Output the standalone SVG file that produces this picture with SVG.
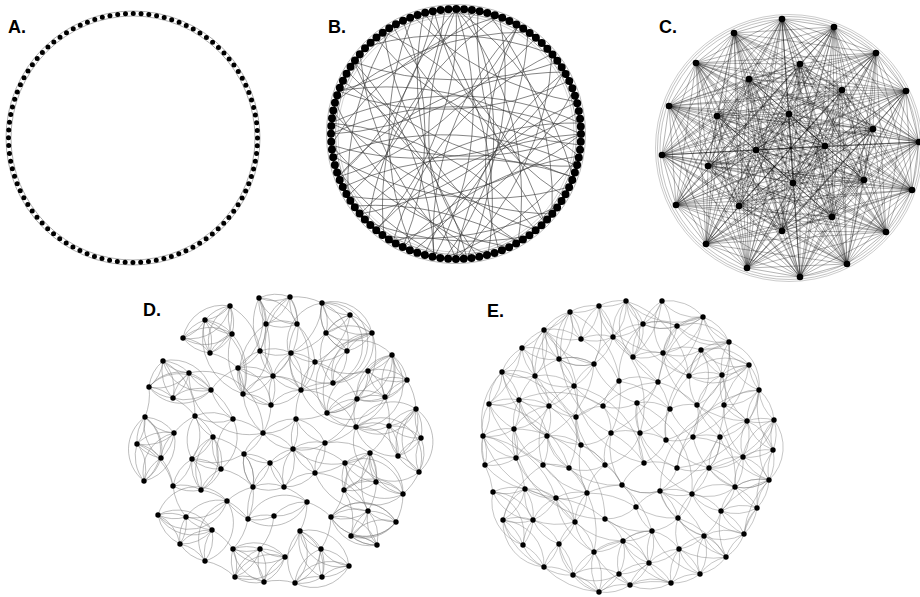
<svg xmlns="http://www.w3.org/2000/svg" width="920" height="597" viewBox="0 0 920 597">
<style>
.lbl{font-family:"Liberation Sans",Arial,sans-serif;font-weight:bold;font-size:18px;fill:#000}
.ring{fill:none;stroke:#000;stroke-linecap:round}
.ra{fill:none;stroke:#9a9a9a;stroke-width:.8}
.eb{fill:none;stroke:#333;stroke-width:.6}
.ec{fill:none;stroke:#000;stroke-opacity:.5;stroke-width:.6}
.ed{fill:none;stroke:#7a7a7a;stroke-width:.5}
.ee{fill:none;stroke:#808080;stroke-width:.45}
</style>
<rect width="920" height="597" fill="#fff"/>
<g id="labels">
<text class="lbl" x="8" y="33">A.</text>
<text class="lbl" x="328" y="33">B.</text>
<text class="lbl" x="659" y="33">C.</text>
<text class="lbl" x="143" y="316">D.</text>
<text class="lbl" x="487" y="317">E.</text>
</g>
<g id="connectors">
<g id="edges-A">
<circle class="ra" cx="133" cy="138" r="122"/>
<circle class="ra" cx="133" cy="138" r="127"/>
</g>
<g id="edges-B">
<circle class="ra" cx="456" cy="134" r="120.5" style="stroke:#666;stroke-width:.6"/>
<circle class="ra" cx="456" cy="134" r="118" style="stroke:#aaa;stroke-width:.5"/>
<circle class="ra" cx="456" cy="134" r="129.5" style="stroke:#888;stroke-width:.6"/>
<path class="eb" d="M456 9A300 300 0 0 1 434 257M456 9A300 300 0 0 1 518 242M456 9A300 300 0 0 1 376 230M456 9A300 300 0 0 1 573 177M467 10A300 300 0 0 1 467 258M445 10A300 300 0 0 1 348 196M478 11A300 300 0 0 1 338 91M499 16A300 300 0 0 1 445 258M488 13A300 300 0 0 1 552 214M518 26A300 300 0 0 1 338 177M528 32A300 300 0 0 1 413 251M536 38A300 300 0 0 1 331 134M552 54A300 300 0 0 1 456 259M558 62A300 300 0 0 1 354 62M564 72A300 300 0 0 1 360 214M569 81A300 300 0 0 1 338 91M573 91A300 300 0 0 1 393 242M577 102A300 300 0 0 1 413 16M579 112A300 300 0 0 1 331 145M581 134A300 300 0 0 1 331 123M581 134A300 300 0 0 1 348 196M580 145A300 300 0 0 1 376 38M579 156A300 300 0 0 1 445 258M577 166A300 300 0 0 1 348 72M573 177A300 300 0 0 1 393 26M569 187A300 300 0 0 1 333 156M564 196A300 300 0 0 1 434 11M558 206A300 300 0 0 1 384 236M552 214A300 300 0 0 1 333 112M544 222A300 300 0 0 1 478 11M536 230A300 300 0 0 1 354 62M528 236A300 300 0 0 1 368 222M518 242A300 300 0 0 1 384 32M509 247A300 300 0 0 1 331 145M499 251A300 300 0 0 1 518 26M488 255A300 300 0 0 1 335 102M478 257A300 300 0 0 1 424 13M467 258A300 300 0 0 1 360 54M456 259A300 300 0 0 1 456 9M456 259A300 300 0 0 1 564 72M445 258A300 300 0 0 1 335 166M434 257A300 300 0 0 1 518 26M424 255A300 300 0 0 1 577 102M413 251A300 300 0 0 1 413 16M403 247A300 300 0 0 1 579 156M393 242A300 300 0 0 1 552 54M384 236A300 300 0 0 1 456 9M376 230A300 300 0 0 1 581 134M368 222A300 300 0 0 1 499 16M360 214A300 300 0 0 1 580 123M354 206A300 300 0 0 1 518 242M348 196A300 300 0 0 1 393 26M343 187A300 300 0 0 1 573 177M338 177A300 300 0 0 1 564 72M333 156A300 300 0 0 1 577 166M331 145A300 300 0 0 1 499 16M331 134A300 300 0 0 1 581 134M331 123A300 300 0 0 1 536 230M335 102A300 300 0 0 1 528 32M343 81A300 300 0 0 1 467 258M354 62A300 300 0 0 1 434 257M368 46A300 300 0 0 1 552 54M384 32A300 300 0 0 1 544 222M403 21A300 300 0 0 1 403 247M424 13A300 300 0 0 1 488 255M434 11A300 300 0 0 1 338 177M331 123A300 300 0 0 1 580 123M338 91A300 300 0 0 1 579 156"/>
</g>
<g id="edges-C">
<circle class="ra" cx="789" cy="148" r="129" style="stroke:#999;stroke-width:.6"/>
<circle class="ra" cx="789" cy="148" r="131.5" style="stroke:#999;stroke-width:.6"/>
<circle class="ra" cx="789" cy="148" r="133.5" style="stroke:#aaa;stroke-width:.6"/>
<path class="ec" d="M782 19L834 27 734 33 876 53 696 63 800 64 749 79 842 90 906 91 669 106 717 116 789 114 873 129 919 142 662 155 825 146 756 150 708 166 864 180 793 183 912 190 676 205 739 206 832 217 782 231 886 232 706 244 847 264 747 268 800 277Z
M782 19L842 90 662 155 676 205 747 268 800 64 873 129 793 183 706 244 876 53 717 116 708 166 782 231 834 27 906 91 825 146 739 206 800 277 749 79 919 142 912 190 847 264 696 63 789 114 864 180 886 232 734 33 669 106 756 150 832 217Z
M782 19L789 114 739 206 876 53 662 155 886 232 749 79 708 166 747 268 669 106 912 190 834 27 873 129 832 217 696 63 825 146 706 244 842 90 864 180 800 277 717 116 676 205 734 33 919 142 782 231 800 64 756 150 847 264 906 91 793 183Z
M782 19L919 142 706 244 669 106 739 206 800 64 864 180 834 27 662 155 847 264 717 116 832 217 749 79 793 183 734 33 825 146 747 268 789 114 782 231 842 90 912 190 876 53 756 150 800 277 873 129 886 232 906 91 676 205 696 63 708 166Z
M782 19L734 33 696 63 749 79 906 91 717 116 873 129 662 155 756 150 864 180 912 190 739 206 782 231 706 244 747 268Z
M834 27L876 53 800 64 842 90 669 106 789 114 919 142 825 146 708 166 793 183 676 205 832 217 886 232 847 264 800 277Z
M782 19L696 63 906 91 873 129 756 150 912 190 782 231 747 268 734 33 749 79 717 116 662 155 864 180 739 206 706 244Z
M834 27L800 64 669 106 919 142 708 166 676 205 886 232 800 277 876 53 842 90 789 114 825 146 793 183 832 217 847 264Z
M782 19L906 91 756 150 782 231 734 33 717 116 864 180 706 244 696 63 873 129 912 190 747 268 749 79 662 155 739 206Z
M834 27L669 106 708 166 886 232 876 53 789 114 793 183 847 264 800 64 919 142 676 205 800 277 842 90 825 146 832 217Z
M782 19L662 155 747 268 873 129 706 244 717 116 782 231 906 91 739 206 749 79 912 190 696 63 864 180 734 33 756 150Z
M834 27L825 146 800 277 919 142 847 264 789 114 886 232 669 106 832 217 842 90 676 205 800 64 793 183 876 53 708 166Z
M782 19L876 53 749 79 669 106 873 129 825 146 864 180 676 205 782 231 847 264Z
M834 27L696 63 842 90 717 116 919 142 756 150 793 183 739 206 886 232 747 268Z
M734 33L800 64 906 91 789 114 662 155 708 166 912 190 832 217 706 244 800 277Z
M782 19L669 106 864 180 847 264 749 79 825 146 782 231 876 53 873 129 676 205Z
M834 27L717 116 793 183 747 268 842 90 756 150 886 232 696 63 919 142 739 206Z
M734 33L789 114 912 190 800 277 906 91 708 166 706 244 800 64 662 155 832 217Z
M782 19L800 64 717 116 825 146 912 190 886 232Z
M834 27L749 79 789 114 756 150 676 205 706 244Z
M734 33L842 90 873 129 708 166 739 206 847 264Z
M876 53L906 91 919 142 864 180 832 217 747 268Z
M696 63L669 106 662 155 793 183 782 231 800 277Z
M782 19L749 79 873 129 864 180 782 231Z
M834 27L842 90 919 142 793 183 886 232Z
M734 33L906 91 662 155 912 190 706 244Z
M876 53L669 106 825 146 676 205 847 264Z
M696 63L717 116 756 150 739 206 747 268Z
M800 64L789 114 708 166 832 217 800 277Z
M782 19L873 129 782 231 749 79 864 180Z
M834 27L919 142 886 232 842 90 793 183Z
M734 33L662 155 706 244 906 91 912 190Z
M876 53L825 146 847 264 669 106 676 205Z
M696 63L756 150 747 268 717 116 739 206Z
M800 64L708 166 800 277 789 114 832 217Z
M782 19L717 116 912 190ZM834 27L789 114 676 205ZM734 33L873 129 739 206ZM876 53L919 142 832 217ZM696 63L662 155 782 231ZM800 64L825 146 886 232ZM749 79L756 150 706 244ZM842 90L708 166 847 264ZM906 91L864 180 747 268ZM669 106L793 183 800 277Z
M782 19L825 146M834 27L756 150M734 33L708 166M876 53L864 180M696 63L793 183M800 64L912 190M749 79L676 205M842 90L739 206M906 91L832 217M669 106L782 231M717 116L886 232M789 114L706 244M873 129L847 264M919 142L747 268M662 155L800 277"/>
</g>
<g id="edges-D">
<path class="ed" d="M205 320A40 40 0 0 1 230 306 40 40 0 0 1 232 334 40 40 0 0 1 183 338 40 40 0 0 1 210 353 40 40 0 0 1 205 320 40 40 0 0 1 232 334 40 40 0 0 1 210 353 40 40 0 0 1 230 306 40 40 0 0 1 183 338 40 40 0 0 1 205 320
M259 298A40 40 0 0 1 290 297 40 40 0 0 1 297 324 40 40 0 0 1 266 324 40 40 0 0 1 259 298 40 40 0 0 1 297 324M290 297A40 40 0 0 1 266 324
M322 303A40 40 0 0 1 350 315 40 40 0 0 1 326 333 40 40 0 0 1 372 333 40 40 0 0 1 347 351 40 40 0 0 1 333 383 40 40 0 0 1 322 303 40 40 0 0 1 326 333 40 40 0 0 1 347 351 40 40 0 0 1 322 303 40 40 0 0 1 372 333 40 40 0 0 1 333 383 40 40 0 0 1 350 315 40 40 0 0 1 372 333
M260 351A40 40 0 0 1 291 353 40 40 0 0 1 315 362 40 40 0 0 1 301 390 40 40 0 0 1 271 405 40 40 0 0 1 243 394 40 40 0 0 1 238 368 40 40 0 0 1 260 351 40 40 0 0 1 273 376 40 40 0 0 1 291 353 40 40 0 0 1 301 390 40 40 0 0 1 273 376 40 40 0 0 1 271 405 40 40 0 0 1 238 368 40 40 0 0 1 273 376 40 40 0 0 1 243 394
M163 361A40 40 0 0 1 189 373 40 40 0 0 1 149 387 40 40 0 0 1 211 390 40 40 0 0 1 173 398 40 40 0 0 1 163 361 40 40 0 0 1 149 387 40 40 0 0 1 173 398 40 40 0 0 1 189 373 40 40 0 0 1 211 390 40 40 0 0 1 163 361
M392 355A40 40 0 0 1 368 371 40 40 0 0 1 407 380 40 40 0 0 1 385 397 40 40 0 0 1 357 399 40 40 0 0 1 327 413 40 40 0 0 1 392 355 40 40 0 0 1 407 380 40 40 0 0 1 357 399 40 40 0 0 1 392 355 40 40 0 0 1 385 397 40 40 0 0 1 327 413 40 40 0 0 1 368 371 40 40 0 0 1 385 397
M145 417A40 40 0 0 1 137 444 40 40 0 0 1 161 458 40 40 0 0 1 144 481 40 40 0 0 1 174 433 40 40 0 0 1 145 417 40 40 0 0 1 161 458 40 40 0 0 1 174 433 40 40 0 0 1 137 444 40 40 0 0 1 144 481 40 40 0 0 1 145 417
M195 416A40 40 0 0 1 213 437 40 40 0 0 1 192 459 40 40 0 0 1 173 486 40 40 0 0 1 201 490 40 40 0 0 1 221 469 40 40 0 0 1 233 419 40 40 0 0 1 195 416 40 40 0 0 1 192 459 40 40 0 0 1 201 490 40 40 0 0 1 213 437 40 40 0 0 1 221 469 40 40 0 0 1 192 459
M416 409A40 40 0 0 1 389 426 40 40 0 0 1 421 438 40 40 0 0 1 398 456 40 40 0 0 1 419 472 40 40 0 0 1 356 427 40 40 0 0 1 416 409 40 40 0 0 1 421 438 40 40 0 0 1 419 472 40 40 0 0 1 416 409 40 40 0 0 1 398 456 40 40 0 0 1 356 427 40 40 0 0 1 389 426 40 40 0 0 1 398 456
M296 419A40 40 0 0 1 263 433 40 40 0 0 1 244 454 40 40 0 0 1 253 487 40 40 0 0 1 284 487 40 40 0 0 1 315 473 40 40 0 0 1 325 443 40 40 0 0 1 296 419 40 40 0 0 1 293 449 40 40 0 0 1 270 463 40 40 0 0 1 253 487 40 40 0 0 1 244 454 40 40 0 0 1 270 463 40 40 0 0 1 284 487 40 40 0 0 1 293 449 40 40 0 0 1 315 473M263 433A40 40 0 0 1 293 449 40 40 0 0 1 325 443
M370 453A40 40 0 0 1 345 463 40 40 0 0 1 376 482 40 40 0 0 1 344 490 40 40 0 0 1 403 494 40 40 0 0 1 370 453 40 40 0 0 1 376 482 40 40 0 0 1 403 494 40 40 0 0 1 345 463 40 40 0 0 1 344 490 40 40 0 0 1 370 453
M227 501A40 40 0 0 1 158 515 40 40 0 0 1 186 517 40 40 0 0 1 212 530 40 40 0 0 1 180 544 40 40 0 0 1 205 561 40 40 0 0 1 227 501 40 40 0 0 1 186 517 40 40 0 0 1 180 544 40 40 0 0 1 158 515 40 40 0 0 1 212 530 40 40 0 0 1 205 561
M248 519A40 40 0 0 1 274 516 40 40 0 0 1 307 502 40 40 0 0 1 248 519
M233 549A40 40 0 0 1 260 549 40 40 0 0 1 285 557 40 40 0 0 1 235 577 40 40 0 0 1 264 582 40 40 0 0 1 233 549 40 40 0 0 1 285 557 40 40 0 0 1 264 582 40 40 0 0 1 260 549 40 40 0 0 1 235 577 40 40 0 0 1 233 549
M300 531A40 40 0 0 1 321 549 40 40 0 0 1 349 566 40 40 0 0 1 322 577 40 40 0 0 1 295 583 40 40 0 0 1 300 531 40 40 0 0 1 349 566 40 40 0 0 1 295 583 40 40 0 0 1 321 549 40 40 0 0 1 322 577 40 40 0 0 1 300 531
M368 511A40 40 0 0 1 331 517 40 40 0 0 1 396 522 40 40 0 0 1 351 536 40 40 0 0 1 377 545 40 40 0 0 1 368 511 40 40 0 0 1 351 536 40 40 0 0 1 377 545 40 40 0 0 1 331 517 40 40 0 0 1 396 522 40 40 0 0 1 368 511"/>
<path class="ed" d="M205 320A40 40 0 0 0 230 306 40 40 0 0 0 232 334 40 40 0 0 0 183 338 40 40 0 0 0 210 353 40 40 0 0 0 205 320 40 40 0 0 0 232 334 40 40 0 0 0 210 353 40 40 0 0 0 230 306 40 40 0 0 0 183 338 40 40 0 0 0 205 320
M259 298A40 40 0 0 0 290 297 40 40 0 0 0 297 324 40 40 0 0 0 266 324 40 40 0 0 0 259 298 40 40 0 0 0 297 324M290 297A40 40 0 0 0 266 324
M322 303A40 40 0 0 0 350 315 40 40 0 0 0 326 333 40 40 0 0 0 372 333 40 40 0 0 0 347 351 40 40 0 0 0 333 383 40 40 0 0 0 322 303 40 40 0 0 0 326 333 40 40 0 0 0 347 351 40 40 0 0 0 322 303 40 40 0 0 0 372 333 40 40 0 0 0 333 383 40 40 0 0 0 350 315 40 40 0 0 0 372 333
M260 351A40 40 0 0 0 291 353 40 40 0 0 0 315 362 40 40 0 0 0 301 390 40 40 0 0 0 271 405 40 40 0 0 0 243 394 40 40 0 0 0 238 368 40 40 0 0 0 260 351 40 40 0 0 0 273 376 40 40 0 0 0 291 353 40 40 0 0 0 301 390 40 40 0 0 0 273 376 40 40 0 0 0 271 405 40 40 0 0 0 238 368 40 40 0 0 0 273 376 40 40 0 0 0 243 394
M163 361A40 40 0 0 0 189 373 40 40 0 0 0 149 387 40 40 0 0 0 211 390 40 40 0 0 0 173 398 40 40 0 0 0 163 361 40 40 0 0 0 149 387 40 40 0 0 0 173 398 40 40 0 0 0 189 373 40 40 0 0 0 211 390 40 40 0 0 0 163 361
M392 355A40 40 0 0 0 368 371 40 40 0 0 0 407 380 40 40 0 0 0 385 397 40 40 0 0 0 357 399 40 40 0 0 0 327 413 40 40 0 0 0 392 355 40 40 0 0 0 407 380 40 40 0 0 0 357 399 40 40 0 0 0 392 355 40 40 0 0 0 385 397 40 40 0 0 0 327 413 40 40 0 0 0 368 371 40 40 0 0 0 385 397
M145 417A40 40 0 0 0 137 444 40 40 0 0 0 161 458 40 40 0 0 0 144 481 40 40 0 0 0 174 433 40 40 0 0 0 145 417 40 40 0 0 0 161 458 40 40 0 0 0 174 433 40 40 0 0 0 137 444 40 40 0 0 0 144 481 40 40 0 0 0 145 417
M195 416A40 40 0 0 0 213 437 40 40 0 0 0 192 459 40 40 0 0 0 173 486 40 40 0 0 0 201 490 40 40 0 0 0 221 469 40 40 0 0 0 233 419 40 40 0 0 0 195 416 40 40 0 0 0 192 459 40 40 0 0 0 201 490 40 40 0 0 0 213 437 40 40 0 0 0 221 469 40 40 0 0 0 192 459
M416 409A40 40 0 0 0 389 426 40 40 0 0 0 421 438 40 40 0 0 0 398 456 40 40 0 0 0 419 472 40 40 0 0 0 356 427 40 40 0 0 0 416 409 40 40 0 0 0 421 438 40 40 0 0 0 419 472 40 40 0 0 0 416 409 40 40 0 0 0 398 456 40 40 0 0 0 356 427 40 40 0 0 0 389 426 40 40 0 0 0 398 456
M296 419A40 40 0 0 0 263 433 40 40 0 0 0 244 454 40 40 0 0 0 253 487 40 40 0 0 0 284 487 40 40 0 0 0 315 473 40 40 0 0 0 325 443 40 40 0 0 0 296 419 40 40 0 0 0 293 449 40 40 0 0 0 270 463 40 40 0 0 0 253 487 40 40 0 0 0 244 454 40 40 0 0 0 270 463 40 40 0 0 0 284 487 40 40 0 0 0 293 449 40 40 0 0 0 315 473M263 433A40 40 0 0 0 293 449 40 40 0 0 0 325 443
M370 453A40 40 0 0 0 345 463 40 40 0 0 0 376 482 40 40 0 0 0 344 490 40 40 0 0 0 403 494 40 40 0 0 0 370 453 40 40 0 0 0 376 482 40 40 0 0 0 403 494 40 40 0 0 0 345 463 40 40 0 0 0 344 490 40 40 0 0 0 370 453
M227 501A40 40 0 0 0 158 515 40 40 0 0 0 186 517 40 40 0 0 0 212 530 40 40 0 0 0 180 544 40 40 0 0 0 205 561 40 40 0 0 0 227 501 40 40 0 0 0 186 517 40 40 0 0 0 180 544 40 40 0 0 0 158 515 40 40 0 0 0 212 530 40 40 0 0 0 205 561
M248 519A40 40 0 0 0 274 516 40 40 0 0 0 307 502 40 40 0 0 0 248 519
M233 549A40 40 0 0 0 260 549 40 40 0 0 0 285 557 40 40 0 0 0 235 577 40 40 0 0 0 264 582 40 40 0 0 0 233 549 40 40 0 0 0 285 557 40 40 0 0 0 264 582 40 40 0 0 0 260 549 40 40 0 0 0 235 577 40 40 0 0 0 233 549
M300 531A40 40 0 0 0 321 549 40 40 0 0 0 349 566 40 40 0 0 0 322 577 40 40 0 0 0 295 583 40 40 0 0 0 300 531 40 40 0 0 0 349 566 40 40 0 0 0 295 583 40 40 0 0 0 321 549 40 40 0 0 0 322 577 40 40 0 0 0 300 531
M368 511A40 40 0 0 0 331 517 40 40 0 0 0 396 522 40 40 0 0 0 351 536 40 40 0 0 0 377 545 40 40 0 0 0 368 511 40 40 0 0 0 351 536 40 40 0 0 0 377 545 40 40 0 0 0 331 517 40 40 0 0 0 396 522 40 40 0 0 0 368 511"/>
<path class="ed" d="M259 298A60 60 0 0 1 260 351M266 324A60 60 0 0 1 243 394M290 297A60 60 0 0 1 273 376M297 324A60 60 0 0 1 301 390M259 298A60 60 0 0 1 238 368M232 334A60 60 0 0 1 243 394M210 353A60 60 0 0 1 238 368M230 306A60 60 0 0 1 260 351M333 383A60 60 0 0 1 301 390M347 351A60 60 0 0 1 315 362M326 333A60 60 0 0 1 291 353M372 333A60 60 0 0 1 327 413M211 390A60 60 0 0 1 238 368M189 373A60 60 0 0 1 263 433M211 390A60 60 0 0 1 233 419M163 361A60 60 0 0 1 195 416M327 413A60 60 0 0 1 296 419M357 399A60 60 0 0 1 325 443M368 371A60 60 0 0 1 315 362M392 355A60 60 0 0 1 356 427M233 419A60 60 0 0 1 263 433M213 437A60 60 0 0 1 244 454M221 469A60 60 0 0 1 253 487M356 427A60 60 0 0 1 325 443M389 426A60 60 0 0 1 370 453M419 472A60 60 0 0 1 403 494M345 463A60 60 0 0 1 315 473M344 490A60 60 0 0 1 331 517M370 453A60 60 0 0 1 368 511M284 487A60 60 0 0 1 307 502M253 487A60 60 0 0 1 248 519M227 501A60 60 0 0 1 248 519M274 516A60 60 0 0 1 260 549M307 502A60 60 0 0 1 300 531M248 519A60 60 0 0 1 233 549M331 517A60 60 0 0 1 321 549M300 531A60 60 0 0 1 285 557M212 530A60 60 0 0 1 233 549M293 449A60 60 0 0 1 345 463M263 433A60 60 0 0 1 243 394M296 419A60 60 0 0 1 301 390M271 405A60 60 0 0 1 263 433M301 390A60 60 0 0 1 356 427M273 376A60 60 0 0 1 327 413M315 362A60 60 0 0 1 357 399M244 454A60 60 0 0 1 192 459M174 433A60 60 0 0 1 195 416M161 458A60 60 0 0 1 173 486M325 443A60 60 0 0 1 370 453M315 473A60 60 0 0 1 368 511M205 320A60 60 0 0 1 243 394M322 303A60 60 0 0 1 291 353M297 324A60 60 0 0 1 315 362M149 387A60 60 0 0 1 145 417M173 398A60 60 0 0 1 195 416M137 444A60 60 0 0 1 173 486M403 494A60 60 0 0 1 396 522M385 397A60 60 0 0 1 389 426M407 380A60 60 0 0 1 416 409M344 490A60 60 0 0 1 351 536M307 502A60 60 0 0 1 331 517M205 561A60 60 0 0 1 235 577M264 582A60 60 0 0 1 295 583M227 501A60 60 0 0 1 253 487M186 517A60 60 0 0 1 173 486M201 490A60 60 0 0 1 227 501M290 297A60 60 0 0 1 322 303M266 324A60 60 0 0 1 260 351M350 315A60 60 0 0 1 315 362
M259 298A60 60 0 0 0 260 351M266 324A60 60 0 0 0 243 394M290 297A60 60 0 0 0 273 376M297 324A60 60 0 0 0 301 390M232 334A60 60 0 0 0 243 394M189 373A60 60 0 0 0 263 433M211 390A60 60 0 0 0 233 419M333 383A60 60 0 0 0 301 390M372 333A60 60 0 0 0 327 413M392 355A60 60 0 0 0 356 427M301 390A60 60 0 0 0 356 427M370 453A60 60 0 0 0 368 511M315 473A60 60 0 0 0 368 511M227 501A60 60 0 0 0 248 519M253 487A60 60 0 0 0 248 519M205 320A60 60 0 0 0 243 394M293 449A60 60 0 0 0 345 463"/>
</g>
<g id="edges-E">
<path class="ee" d="M570 312A45 45 0 0 1 599 306 45 45 0 0 1 626 301 45 45 0 0 1 613 337 45 45 0 0 1 581 339 45 45 0 0 1 570 312 45 45 0 0 1 559 359 45 45 0 0 1 594 364 45 45 0 0 1 613 337 45 45 0 0 1 633 357 45 45 0 0 1 626 301 45 45 0 0 1 643 324 45 45 0 0 1 613 337 45 45 0 0 1 599 306 45 45 0 0 1 581 339 45 45 0 0 1 544 330 45 45 0 0 1 570 312
M662 301A45 45 0 0 1 703 317 45 45 0 0 1 677 326 45 45 0 0 1 643 324 45 45 0 0 1 662 301 45 45 0 0 1 663 353 45 45 0 0 1 703 317 45 45 0 0 1 729 342 45 45 0 0 1 677 326 45 45 0 0 1 663 353 45 45 0 0 1 633 357 45 45 0 0 1 643 324 45 45 0 0 1 677 326
M544 330A45 45 0 0 1 522 348 45 45 0 0 1 502 372 45 45 0 0 1 535 376 45 45 0 0 1 544 330 45 45 0 0 1 559 359 45 45 0 0 1 522 348 45 45 0 0 1 535 376 45 45 0 0 1 574 386 45 45 0 0 1 559 359 45 45 0 0 1 594 364 45 45 0 0 1 574 386 45 45 0 0 1 549 406 45 45 0 0 1 535 376
M729 342A45 45 0 0 1 701 350 45 45 0 0 1 749 365 45 45 0 0 1 722 375 45 45 0 0 1 729 342 45 45 0 0 1 759 390 45 45 0 0 1 749 365 45 45 0 0 1 689 376 45 45 0 0 1 722 375 45 45 0 0 1 701 350 45 45 0 0 1 689 376 45 45 0 0 1 663 353 45 45 0 0 1 701 350 45 45 0 0 1 697 405 45 45 0 0 1 722 375 45 45 0 0 1 724 405 45 45 0 0 1 759 390
M489 404A45 45 0 0 1 519 400 45 45 0 0 1 514 429 45 45 0 0 1 483 436 45 45 0 0 1 489 404 45 45 0 0 1 502 372 45 45 0 0 1 519 400 45 45 0 0 1 549 406 45 45 0 0 1 514 429 45 45 0 0 1 516 458 45 45 0 0 1 485 465 45 45 0 0 1 483 436 45 45 0 0 1 516 458 45 45 0 0 1 547 436 45 45 0 0 1 519 400
M774 420A45 45 0 0 1 747 421 45 45 0 0 1 773 450 45 45 0 0 1 743 457 45 45 0 0 1 774 420 45 45 0 0 1 769 480 45 45 0 0 1 743 457 45 45 0 0 1 747 421 45 45 0 0 1 759 390 45 45 0 0 1 774 420 45 45 0 0 1 773 450 45 45 0 0 1 769 480 45 45 0 0 1 735 487 45 45 0 0 1 743 457 45 45 0 0 1 709 468 45 45 0 0 1 720 437 45 45 0 0 1 747 421 45 45 0 0 1 724 405
M576 417A45 45 0 0 1 603 406 45 45 0 0 1 611 433 45 45 0 0 1 581 445 45 45 0 0 1 576 417 45 45 0 0 1 549 406 45 45 0 0 1 547 436 45 45 0 0 1 581 445 45 45 0 0 1 605 465 45 45 0 0 1 611 433 45 45 0 0 1 640 433 45 45 0 0 1 637 403 45 45 0 0 1 603 406 45 45 0 0 1 619 381 45 45 0 0 1 658 382 45 45 0 0 1 637 403 45 45 0 0 1 670 409 45 45 0 0 1 640 433 45 45 0 0 1 666 440 45 45 0 0 1 670 409 45 45 0 0 1 697 405 45 45 0 0 1 693 437 45 45 0 0 1 666 440 45 45 0 0 1 644 463 45 45 0 0 1 640 433 45 45 0 0 1 605 465 45 45 0 0 1 569 468 45 45 0 0 1 547 436 45 45 0 0 1 543 465 45 45 0 0 1 569 468 45 45 0 0 1 587 493 45 45 0 0 1 605 465 45 45 0 0 1 622 485 45 45 0 0 1 644 463 45 45 0 0 1 677 468 45 45 0 0 1 693 437 45 45 0 0 1 720 437 45 45 0 0 1 709 468 45 45 0 0 1 677 468 45 45 0 0 1 660 491 45 45 0 0 1 622 485
M493 492A45 45 0 0 1 525 489 45 45 0 0 1 503 520 45 45 0 0 1 533 520 45 45 0 0 1 493 492 45 45 0 0 1 523 545 45 45 0 0 1 503 520 45 45 0 0 1 544 567 45 45 0 0 1 523 545 45 45 0 0 1 533 520 45 45 0 0 1 525 489 45 45 0 0 1 556 498 45 45 0 0 1 533 520 45 45 0 0 1 559 544 45 45 0 0 1 544 567 45 45 0 0 1 573 575 45 45 0 0 1 559 544 45 45 0 0 1 575 522 45 45 0 0 1 556 498 45 45 0 0 1 587 493 45 45 0 0 1 575 522 45 45 0 0 1 594 552 45 45 0 0 1 573 575
M619 574A45 45 0 0 1 649 563 45 45 0 0 1 671 583 45 45 0 0 1 630 585 45 45 0 0 1 599 592 45 45 0 0 1 619 574 45 45 0 0 1 630 585 45 45 0 0 1 649 563 45 45 0 0 1 623 541 45 45 0 0 1 594 552 45 45 0 0 1 599 592 45 45 0 0 1 573 575 45 45 0 0 1 619 574 45 45 0 0 1 623 541 45 45 0 0 1 652 531 45 45 0 0 1 649 563 45 45 0 0 1 679 549 45 45 0 0 1 671 583 45 45 0 0 1 700 574 45 45 0 0 1 679 549 45 45 0 0 1 704 536 45 45 0 0 1 700 574 45 45 0 0 1 726 557 45 45 0 0 1 704 536 45 45 0 0 1 744 534 45 45 0 0 1 726 557
M735 487A45 45 0 0 1 769 480 45 45 0 0 1 757 508 45 45 0 0 1 721 511 45 45 0 0 1 735 487 45 45 0 0 1 692 494 45 45 0 0 1 721 511 45 45 0 0 1 744 534 45 45 0 0 1 757 508 45 45 0 0 1 735 487 45 45 0 0 1 709 468 45 45 0 0 1 692 494 45 45 0 0 1 660 491 45 45 0 0 1 678 518 45 45 0 0 1 692 494M721 511A45 45 0 0 1 704 536 45 45 0 0 1 678 518 45 45 0 0 1 652 531 45 45 0 0 1 636 507 45 45 0 0 1 660 491 45 45 0 0 1 622 485 45 45 0 0 1 636 507 45 45 0 0 1 605 519 45 45 0 0 1 623 541 45 45 0 0 1 652 531 45 45 0 0 1 679 549 45 45 0 0 1 678 518"/>
<path class="ee" d="M570 312A45 45 0 0 0 599 306 45 45 0 0 0 626 301 45 45 0 0 0 613 337 45 45 0 0 0 581 339 45 45 0 0 0 570 312 45 45 0 0 0 559 359 45 45 0 0 0 594 364 45 45 0 0 0 613 337 45 45 0 0 0 633 357 45 45 0 0 0 626 301 45 45 0 0 0 643 324 45 45 0 0 0 613 337 45 45 0 0 0 599 306 45 45 0 0 0 581 339 45 45 0 0 0 544 330 45 45 0 0 0 570 312
M662 301A45 45 0 0 0 703 317 45 45 0 0 0 677 326 45 45 0 0 0 643 324 45 45 0 0 0 662 301 45 45 0 0 0 663 353 45 45 0 0 0 703 317 45 45 0 0 0 729 342 45 45 0 0 0 677 326 45 45 0 0 0 663 353 45 45 0 0 0 633 357 45 45 0 0 0 643 324 45 45 0 0 0 677 326
M544 330A45 45 0 0 0 522 348 45 45 0 0 0 502 372 45 45 0 0 0 535 376 45 45 0 0 0 544 330 45 45 0 0 0 559 359 45 45 0 0 0 522 348 45 45 0 0 0 535 376 45 45 0 0 0 574 386 45 45 0 0 0 559 359 45 45 0 0 0 594 364 45 45 0 0 0 574 386 45 45 0 0 0 549 406 45 45 0 0 0 535 376
M729 342A45 45 0 0 0 701 350 45 45 0 0 0 749 365 45 45 0 0 0 722 375 45 45 0 0 0 729 342 45 45 0 0 0 759 390 45 45 0 0 0 749 365 45 45 0 0 0 689 376 45 45 0 0 0 722 375 45 45 0 0 0 701 350 45 45 0 0 0 689 376 45 45 0 0 0 663 353 45 45 0 0 0 701 350 45 45 0 0 0 697 405 45 45 0 0 0 722 375 45 45 0 0 0 724 405 45 45 0 0 0 759 390
M489 404A45 45 0 0 0 519 400 45 45 0 0 0 514 429 45 45 0 0 0 483 436 45 45 0 0 0 489 404 45 45 0 0 0 502 372 45 45 0 0 0 519 400 45 45 0 0 0 549 406 45 45 0 0 0 514 429 45 45 0 0 0 516 458 45 45 0 0 0 485 465 45 45 0 0 0 483 436 45 45 0 0 0 516 458 45 45 0 0 0 547 436 45 45 0 0 0 519 400
M774 420A45 45 0 0 0 747 421 45 45 0 0 0 773 450 45 45 0 0 0 743 457 45 45 0 0 0 774 420 45 45 0 0 0 769 480 45 45 0 0 0 743 457 45 45 0 0 0 747 421 45 45 0 0 0 759 390 45 45 0 0 0 774 420 45 45 0 0 0 773 450 45 45 0 0 0 769 480 45 45 0 0 0 735 487 45 45 0 0 0 743 457 45 45 0 0 0 709 468 45 45 0 0 0 720 437 45 45 0 0 0 747 421 45 45 0 0 0 724 405
M493 492A45 45 0 0 0 525 489 45 45 0 0 0 503 520 45 45 0 0 0 533 520 45 45 0 0 0 493 492 45 45 0 0 0 523 545 45 45 0 0 0 503 520 45 45 0 0 0 544 567 45 45 0 0 0 523 545 45 45 0 0 0 533 520 45 45 0 0 0 525 489 45 45 0 0 0 556 498 45 45 0 0 0 533 520 45 45 0 0 0 559 544 45 45 0 0 0 544 567 45 45 0 0 0 573 575 45 45 0 0 0 559 544 45 45 0 0 0 575 522 45 45 0 0 0 556 498 45 45 0 0 0 587 493 45 45 0 0 0 575 522 45 45 0 0 0 594 552 45 45 0 0 0 573 575
M619 574A45 45 0 0 0 649 563 45 45 0 0 0 671 583 45 45 0 0 0 630 585 45 45 0 0 0 599 592 45 45 0 0 0 619 574 45 45 0 0 0 630 585 45 45 0 0 0 649 563 45 45 0 0 0 623 541 45 45 0 0 0 594 552 45 45 0 0 0 599 592 45 45 0 0 0 573 575 45 45 0 0 0 619 574 45 45 0 0 0 623 541 45 45 0 0 0 652 531 45 45 0 0 0 649 563 45 45 0 0 0 679 549 45 45 0 0 0 671 583 45 45 0 0 0 700 574 45 45 0 0 0 679 549 45 45 0 0 0 704 536 45 45 0 0 0 700 574 45 45 0 0 0 726 557 45 45 0 0 0 704 536 45 45 0 0 0 744 534 45 45 0 0 0 726 557
M735 487A45 45 0 0 0 769 480 45 45 0 0 0 757 508 45 45 0 0 0 721 511 45 45 0 0 0 735 487 45 45 0 0 0 692 494 45 45 0 0 0 721 511 45 45 0 0 0 744 534 45 45 0 0 0 757 508 45 45 0 0 0 735 487 45 45 0 0 0 709 468 45 45 0 0 0 692 494 45 45 0 0 0 660 491 45 45 0 0 0 678 518 45 45 0 0 0 692 494"/>
<path class="ee" d="M570 312A90 90 0 0 1 611 433M626 301A90 90 0 0 1 689 376M544 330A90 90 0 0 1 576 417M502 372A90 90 0 0 1 581 445M703 317A90 90 0 0 1 658 382M749 365A90 90 0 0 1 693 437M489 404A90 90 0 0 1 569 468M519 400A90 90 0 0 1 603 406M759 390A90 90 0 0 1 677 468M594 364A90 90 0 0 1 547 436M613 337A90 90 0 0 1 640 433M663 353A90 90 0 0 1 611 433M729 342A90 90 0 0 1 666 440M574 386A90 90 0 0 1 644 463M483 436A90 90 0 0 1 556 498M514 429A90 90 0 0 1 605 519M724 405A90 90 0 0 1 660 491M774 420A90 90 0 0 1 709 468M581 445A90 90 0 0 1 622 485M697 405A90 90 0 0 1 735 487M637 403A90 90 0 0 1 692 494M587 493A90 90 0 0 1 636 507M525 489A90 90 0 0 1 575 522M543 465A90 90 0 0 1 575 522M569 468A90 90 0 0 1 594 552M605 519A90 90 0 0 1 649 563M678 518A90 90 0 0 1 726 557M721 511A90 90 0 0 1 769 480M693 437A90 90 0 0 1 743 457M619 381A90 90 0 0 1 670 409M581 339A90 90 0 0 1 619 381M633 357A90 90 0 0 1 670 409M485 465A90 90 0 0 1 493 492M603 406A90 90 0 0 1 658 382M599 306A90 90 0 0 1 594 364M662 301A90 90 0 0 1 633 357M522 348A90 90 0 0 1 489 404M747 421A90 90 0 0 1 697 405M757 508A90 90 0 0 1 773 450M744 534A90 90 0 0 1 769 480M503 520A90 90 0 0 1 543 465M516 458A90 90 0 0 1 525 489M556 498A90 90 0 0 1 605 519M622 485A90 90 0 0 1 652 531M660 491A90 90 0 0 1 704 536M599 592A90 90 0 0 1 544 567M630 585A90 90 0 0 1 671 583M611 433A90 90 0 0 1 644 463M576 417A90 90 0 0 1 569 468M549 406A90 90 0 0 1 581 445M658 382A90 90 0 0 1 697 405M619 381A90 90 0 0 1 576 417M594 552A90 90 0 0 1 623 541M587 493A90 90 0 0 1 622 485
M570 312A90 90 0 0 0 611 433M626 301A90 90 0 0 0 689 376M544 330A90 90 0 0 0 576 417M502 372A90 90 0 0 0 581 445M703 317A90 90 0 0 0 658 382M749 365A90 90 0 0 0 693 437M489 404A90 90 0 0 0 569 468M759 390A90 90 0 0 0 677 468M729 342A90 90 0 0 0 666 440M574 386A90 90 0 0 0 644 463M483 436A90 90 0 0 0 556 498M514 429A90 90 0 0 0 605 519M724 405A90 90 0 0 0 660 491M637 403A90 90 0 0 0 692 494M678 518A90 90 0 0 0 726 557"/>
<path class="ee" d="M599 306A70 70 0 0 0 663 353M626 301A70 70 0 0 0 703 317M570 312A70 70 0 0 0 535 376M544 330A70 70 0 0 0 594 364M643 324A70 70 0 0 0 619 381M677 326A70 70 0 0 0 729 342M703 317A70 70 0 0 0 749 365M559 359A70 70 0 0 0 519 400M502 372A70 70 0 0 0 483 436M535 376A70 70 0 0 0 576 417M574 386A70 70 0 0 0 603 406M594 364A70 70 0 0 0 637 403M633 357A70 70 0 0 0 658 382M663 353A70 70 0 0 0 697 405M689 376A70 70 0 0 0 670 409M722 375A70 70 0 0 0 747 421M759 390A70 70 0 0 0 773 450M749 365A70 70 0 0 0 724 405M489 404A70 70 0 0 0 514 429M519 400A70 70 0 0 0 547 436M549 406A70 70 0 0 0 543 465M576 417A70 70 0 0 0 605 465M603 406A70 70 0 0 0 640 433M637 403A70 70 0 0 0 666 440M670 409A70 70 0 0 0 693 437M697 405A70 70 0 0 0 720 437M724 405A70 70 0 0 0 743 457M483 436A70 70 0 0 0 485 465M514 429A70 70 0 0 0 543 465M547 436A70 70 0 0 0 569 468M581 445A70 70 0 0 0 587 493M611 433A70 70 0 0 0 622 485M640 433A70 70 0 0 0 677 468M666 440A70 70 0 0 0 709 468M693 437A70 70 0 0 0 735 487M720 437A70 70 0 0 0 769 480M485 465A70 70 0 0 0 525 489M516 458A70 70 0 0 0 556 498M543 465A70 70 0 0 0 587 493M569 468A70 70 0 0 0 622 485M503 520A70 70 0 0 0 544 567M533 520A70 70 0 0 0 575 522M556 498A70 70 0 0 0 594 552M575 522A70 70 0 0 0 623 541M605 519A70 70 0 0 0 652 531M636 507A70 70 0 0 0 678 518M660 491A70 70 0 0 0 704 536M692 494A70 70 0 0 0 744 534M721 511A70 70 0 0 0 726 557M757 508A70 70 0 0 0 744 534M559 544A70 70 0 0 0 599 592M594 552A70 70 0 0 0 630 585M623 541A70 70 0 0 0 671 583M652 531A70 70 0 0 0 700 574M679 549A70 70 0 0 0 726 557"/>
</g>
</g>
<g id="nodes-A"><circle class="ring" cx="133" cy="138" r="124.5" stroke-width="5" stroke-dasharray="0 7.823"/></g>
<g id="nodes-B"><circle class="ring" cx="456" cy="134" r="125" stroke-width="8" stroke-dasharray="0 7.854"/></g>
<g id="nodes-C">
<g id="c0"><circle cx="782" cy="19" r="3.3"/></g><g id="c1"><circle cx="834" cy="27" r="3.3"/></g><g id="c2"><circle cx="734" cy="33" r="3.3"/></g><g id="c3"><circle cx="876" cy="53" r="3.3"/></g><g id="c4"><circle cx="696" cy="63" r="3.3"/></g><g id="c5"><circle cx="800" cy="64" r="3.3"/></g><g id="c6"><circle cx="749" cy="79" r="3.3"/></g><g id="c7"><circle cx="842" cy="90" r="3.3"/></g><g id="c8"><circle cx="906" cy="91" r="3.3"/></g><g id="c9"><circle cx="669" cy="106" r="3.3"/></g>
<g id="c10"><circle cx="717" cy="116" r="3.3"/></g><g id="c11"><circle cx="789" cy="114" r="3.3"/></g><g id="c12"><circle cx="873" cy="129" r="3.3"/></g><g id="c13"><circle cx="919" cy="142" r="3.3"/></g><g id="c14"><circle cx="662" cy="155" r="3.3"/></g><g id="c15"><circle cx="825" cy="146" r="3.3"/></g><g id="c16"><circle cx="756" cy="150" r="3.3"/></g><g id="c17"><circle cx="708" cy="166" r="3.3"/></g><g id="c18"><circle cx="864" cy="180" r="3.3"/></g><g id="c19"><circle cx="793" cy="183" r="3.3"/></g>
<g id="c20"><circle cx="912" cy="190" r="3.3"/></g><g id="c21"><circle cx="676" cy="205" r="3.3"/></g><g id="c22"><circle cx="739" cy="206" r="3.3"/></g><g id="c23"><circle cx="832" cy="217" r="3.3"/></g><g id="c24"><circle cx="782" cy="231" r="3.3"/></g><g id="c25"><circle cx="886" cy="232" r="3.3"/></g><g id="c26"><circle cx="706" cy="244" r="3.3"/></g><g id="c27"><circle cx="847" cy="264" r="3.3"/></g><g id="c28"><circle cx="747" cy="268" r="3.3"/></g><g id="c29"><circle cx="800" cy="277" r="3.3"/></g>
</g>
<g id="nodes-D">
<g id="d1"><circle cx="205" cy="320" r="2.7"/></g><g id="d2"><circle cx="230" cy="306" r="2.7"/></g><g id="d3"><circle cx="232" cy="334" r="2.7"/></g><g id="d4"><circle cx="183" cy="338" r="2.7"/></g><g id="d5"><circle cx="210" cy="353" r="2.7"/></g>
<g id="d6"><circle cx="259" cy="298" r="2.7"/></g><g id="d7"><circle cx="290" cy="297" r="2.7"/></g><g id="d8"><circle cx="266" cy="324" r="2.7"/></g><g id="d9"><circle cx="297" cy="324" r="2.7"/></g>
<g id="d10"><circle cx="322" cy="303" r="2.7"/></g><g id="d11"><circle cx="350" cy="315" r="2.7"/></g><g id="d12"><circle cx="326" cy="333" r="2.7"/></g><g id="d13"><circle cx="372" cy="333" r="2.7"/></g><g id="d14"><circle cx="347" cy="351" r="2.7"/></g><g id="d15"><circle cx="333" cy="383" r="2.7"/></g>
<g id="d16"><circle cx="260" cy="351" r="2.7"/></g><g id="d17"><circle cx="291" cy="353" r="2.7"/></g><g id="d18"><circle cx="238" cy="368" r="2.7"/></g><g id="d19"><circle cx="273" cy="376" r="2.7"/></g><g id="d20"><circle cx="315" cy="362" r="2.7"/></g><g id="d21"><circle cx="301" cy="390" r="2.7"/></g><g id="d22"><circle cx="271" cy="405" r="2.7"/></g><g id="d23"><circle cx="243" cy="394" r="2.7"/></g>
<g id="d24"><circle cx="163" cy="361" r="2.7"/></g><g id="d25"><circle cx="189" cy="373" r="2.7"/></g><g id="d26"><circle cx="149" cy="387" r="2.7"/></g><g id="d27"><circle cx="211" cy="390" r="2.7"/></g><g id="d28"><circle cx="173" cy="398" r="2.7"/></g>
<g id="d29"><circle cx="392" cy="355" r="2.7"/></g><g id="d30"><circle cx="368" cy="371" r="2.7"/></g><g id="d31"><circle cx="407" cy="380" r="2.7"/></g><g id="d32"><circle cx="385" cy="397" r="2.7"/></g><g id="d33"><circle cx="357" cy="399" r="2.7"/></g><g id="d34"><circle cx="327" cy="413" r="2.7"/></g>
<g id="d35"><circle cx="145" cy="417" r="2.7"/></g><g id="d36"><circle cx="137" cy="444" r="2.7"/></g><g id="d37"><circle cx="161" cy="458" r="2.7"/></g><g id="d38"><circle cx="144" cy="481" r="2.7"/></g><g id="d39"><circle cx="174" cy="433" r="2.7"/></g>
<g id="d40"><circle cx="195" cy="416" r="2.7"/></g><g id="d41"><circle cx="213" cy="437" r="2.7"/></g><g id="d42"><circle cx="192" cy="459" r="2.7"/></g><g id="d43"><circle cx="173" cy="486" r="2.7"/></g><g id="d44"><circle cx="201" cy="490" r="2.7"/></g><g id="d45"><circle cx="221" cy="469" r="2.7"/></g><g id="d46"><circle cx="233" cy="419" r="2.7"/></g>
<g id="d47"><circle cx="416" cy="409" r="2.7"/></g><g id="d48"><circle cx="389" cy="426" r="2.7"/></g><g id="d49"><circle cx="421" cy="438" r="2.7"/></g><g id="d50"><circle cx="398" cy="456" r="2.7"/></g><g id="d51"><circle cx="419" cy="472" r="2.7"/></g><g id="d52"><circle cx="356" cy="427" r="2.7"/></g>
<g id="d53"><circle cx="263" cy="433" r="2.7"/></g><g id="d54"><circle cx="296" cy="419" r="2.7"/></g><g id="d55"><circle cx="293" cy="449" r="2.7"/></g><g id="d56"><circle cx="325" cy="443" r="2.7"/></g><g id="d57"><circle cx="244" cy="454" r="2.7"/></g><g id="d58"><circle cx="270" cy="463" r="2.7"/></g><g id="d59"><circle cx="315" cy="473" r="2.7"/></g><g id="d60"><circle cx="253" cy="487" r="2.7"/></g><g id="d61"><circle cx="284" cy="487" r="2.7"/></g>
<g id="d62"><circle cx="370" cy="453" r="2.7"/></g><g id="d63"><circle cx="345" cy="463" r="2.7"/></g><g id="d64"><circle cx="376" cy="482" r="2.7"/></g><g id="d65"><circle cx="344" cy="490" r="2.7"/></g><g id="d66"><circle cx="403" cy="494" r="2.7"/></g>
<g id="d67"><circle cx="227" cy="501" r="2.7"/></g><g id="d68"><circle cx="158" cy="515" r="2.7"/></g><g id="d69"><circle cx="186" cy="517" r="2.7"/></g><g id="d70"><circle cx="212" cy="530" r="2.7"/></g><g id="d71"><circle cx="180" cy="544" r="2.7"/></g><g id="d72"><circle cx="205" cy="561" r="2.7"/></g>
<g id="d73"><circle cx="248" cy="519" r="2.7"/></g><g id="d74"><circle cx="274" cy="516" r="2.7"/></g><g id="d75"><circle cx="307" cy="502" r="2.7"/></g>
<g id="d76"><circle cx="233" cy="549" r="2.7"/></g><g id="d77"><circle cx="260" cy="549" r="2.7"/></g><g id="d78"><circle cx="285" cy="557" r="2.7"/></g><g id="d79"><circle cx="235" cy="577" r="2.7"/></g><g id="d80"><circle cx="264" cy="582" r="2.7"/></g>
<g id="d81"><circle cx="300" cy="531" r="2.7"/></g><g id="d82"><circle cx="321" cy="549" r="2.7"/></g><g id="d83"><circle cx="349" cy="566" r="2.7"/></g><g id="d84"><circle cx="322" cy="577" r="2.7"/></g><g id="d85"><circle cx="295" cy="583" r="2.7"/></g>
<g id="d86"><circle cx="368" cy="511" r="2.7"/></g><g id="d87"><circle cx="331" cy="517" r="2.7"/></g><g id="d88"><circle cx="396" cy="522" r="2.7"/></g><g id="d89"><circle cx="351" cy="536" r="2.7"/></g><g id="d90"><circle cx="377" cy="545" r="2.7"/></g>
</g>
<g id="nodes-E">
<g id="e0"><circle cx="570" cy="312" r="2.7"/></g><g id="e1"><circle cx="599" cy="306" r="2.7"/></g><g id="e2"><circle cx="626" cy="301" r="2.7"/></g><g id="e3"><circle cx="613" cy="337" r="2.7"/></g><g id="e4"><circle cx="633" cy="357" r="2.7"/></g><g id="e5"><circle cx="581" cy="339" r="2.7"/></g><g id="e6"><circle cx="559" cy="359" r="2.7"/></g><g id="e7"><circle cx="594" cy="364" r="2.7"/></g><g id="e8"><circle cx="662" cy="301" r="2.7"/></g><g id="e9"><circle cx="703" cy="317" r="2.7"/></g>
<g id="e10"><circle cx="643" cy="324" r="2.7"/></g><g id="e11"><circle cx="677" cy="326" r="2.7"/></g><g id="e12"><circle cx="663" cy="353" r="2.7"/></g><g id="e13"><circle cx="544" cy="330" r="2.7"/></g><g id="e14"><circle cx="522" cy="348" r="2.7"/></g><g id="e15"><circle cx="502" cy="372" r="2.7"/></g><g id="e16"><circle cx="535" cy="376" r="2.7"/></g><g id="e17"><circle cx="729" cy="342" r="2.7"/></g><g id="e18"><circle cx="701" cy="350" r="2.7"/></g><g id="e19"><circle cx="749" cy="365" r="2.7"/></g>
<g id="e20"><circle cx="722" cy="375" r="2.7"/></g><g id="e21"><circle cx="689" cy="376" r="2.7"/></g><g id="e22"><circle cx="759" cy="390" r="2.7"/></g><g id="e23"><circle cx="658" cy="382" r="2.7"/></g><g id="e24"><circle cx="619" cy="381" r="2.7"/></g><g id="e25"><circle cx="574" cy="386" r="2.7"/></g><g id="e26"><circle cx="489" cy="404" r="2.7"/></g><g id="e27"><circle cx="519" cy="400" r="2.7"/></g><g id="e28"><circle cx="549" cy="406" r="2.7"/></g><g id="e29"><circle cx="576" cy="417" r="2.7"/></g>
<g id="e30"><circle cx="603" cy="406" r="2.7"/></g><g id="e31"><circle cx="637" cy="403" r="2.7"/></g><g id="e32"><circle cx="670" cy="409" r="2.7"/></g><g id="e33"><circle cx="697" cy="405" r="2.7"/></g><g id="e34"><circle cx="724" cy="405" r="2.7"/></g><g id="e35"><circle cx="774" cy="420" r="2.7"/></g><g id="e36"><circle cx="747" cy="421" r="2.7"/></g><g id="e37"><circle cx="514" cy="429" r="2.7"/></g><g id="e38"><circle cx="483" cy="436" r="2.7"/></g><g id="e39"><circle cx="547" cy="436" r="2.7"/></g>
<g id="e40"><circle cx="611" cy="433" r="2.7"/></g><g id="e41"><circle cx="640" cy="433" r="2.7"/></g><g id="e42"><circle cx="666" cy="440" r="2.7"/></g><g id="e43"><circle cx="693" cy="437" r="2.7"/></g><g id="e44"><circle cx="720" cy="437" r="2.7"/></g><g id="e45"><circle cx="581" cy="445" r="2.7"/></g><g id="e46"><circle cx="773" cy="450" r="2.7"/></g><g id="e47"><circle cx="743" cy="457" r="2.7"/></g><g id="e48"><circle cx="709" cy="468" r="2.7"/></g><g id="e49"><circle cx="677" cy="468" r="2.7"/></g>
<g id="e50"><circle cx="644" cy="463" r="2.7"/></g><g id="e51"><circle cx="605" cy="465" r="2.7"/></g><g id="e52"><circle cx="569" cy="468" r="2.7"/></g><g id="e53"><circle cx="543" cy="465" r="2.7"/></g><g id="e54"><circle cx="516" cy="458" r="2.7"/></g><g id="e55"><circle cx="485" cy="465" r="2.7"/></g><g id="e56"><circle cx="493" cy="492" r="2.7"/></g><g id="e57"><circle cx="525" cy="489" r="2.7"/></g><g id="e58"><circle cx="556" cy="498" r="2.7"/></g><g id="e59"><circle cx="587" cy="493" r="2.7"/></g>
<g id="e60"><circle cx="622" cy="485" r="2.7"/></g><g id="e61"><circle cx="660" cy="491" r="2.7"/></g><g id="e62"><circle cx="692" cy="494" r="2.7"/></g><g id="e63"><circle cx="735" cy="487" r="2.7"/></g><g id="e64"><circle cx="769" cy="480" r="2.7"/></g><g id="e65"><circle cx="636" cy="507" r="2.7"/></g><g id="e66"><circle cx="721" cy="511" r="2.7"/></g><g id="e67"><circle cx="757" cy="508" r="2.7"/></g><g id="e68"><circle cx="503" cy="520" r="2.7"/></g><g id="e69"><circle cx="533" cy="520" r="2.7"/></g>
<g id="e70"><circle cx="575" cy="522" r="2.7"/></g><g id="e71"><circle cx="605" cy="519" r="2.7"/></g><g id="e72"><circle cx="678" cy="518" r="2.7"/></g><g id="e73"><circle cx="704" cy="536" r="2.7"/></g><g id="e74"><circle cx="744" cy="534" r="2.7"/></g><g id="e75"><circle cx="652" cy="531" r="2.7"/></g><g id="e76"><circle cx="623" cy="541" r="2.7"/></g><g id="e77"><circle cx="523" cy="545" r="2.7"/></g><g id="e78"><circle cx="559" cy="544" r="2.7"/></g><g id="e79"><circle cx="594" cy="552" r="2.7"/></g>
<g id="e80"><circle cx="679" cy="549" r="2.7"/></g><g id="e81"><circle cx="726" cy="557" r="2.7"/></g><g id="e82"><circle cx="544" cy="567" r="2.7"/></g><g id="e83"><circle cx="573" cy="575" r="2.7"/></g><g id="e84"><circle cx="619" cy="574" r="2.7"/></g><g id="e85"><circle cx="649" cy="563" r="2.7"/></g><g id="e86"><circle cx="671" cy="583" r="2.7"/></g><g id="e87"><circle cx="700" cy="574" r="2.7"/></g><g id="e88"><circle cx="599" cy="592" r="2.7"/></g><g id="e89"><circle cx="630" cy="585" r="2.7"/></g>
</g>
</svg>
